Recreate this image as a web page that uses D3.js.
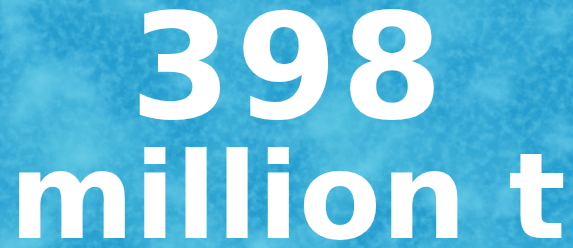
<!DOCTYPE html>
<html>
<head>
<meta charset="utf-8">
<script src="https://cdn.jsdelivr.net/npm/d3@7"></script>
<style>
  html, body { margin: 0; padding: 0; overflow: hidden; }
</style>
</head>
<body>
<svg id="chart" width="573" height="248"></svg>
<script>
// big figure card data
const values = [398]
const units = ["million t"]

const W = 573, H = 248
const svg = d3.select('#chart')

// watercolour-ish blue background
const defs = svg.append('defs')
function noise(id, freq, oct, seed, rgb, a, b) {
  const f = defs.append('filter').attr('id', id)
    .attr('x', 0).attr('y', 0).attr('width', '100%').attr('height', '100%')
  f.append('feTurbulence')
    .attr('type', 'fractalNoise')
    .attr('baseFrequency', freq)
    .attr('numOctaves', oct)
    .attr('seed', seed)
  f.append('feColorMatrix')
    .attr('type', 'matrix')
    .attr('values', `0 0 0 0 ${rgb[0]}  0 0 0 0 ${rgb[1]}  0 0 0 0 ${rgb[2]}  ${a} 0 0 0 ${b}`)
}
noise('dark', 0.01, 5, 3, [0.08, 0.52, 0.73], 2.2, -0.85)
noise('light', 0.018, 5, 11, [0.20, 0.68, 0.87], 1.8, -0.95)
noise('grain', 0.12, 3, 5, [0.12, 0.58, 0.78], 1.2, -0.45)

svg.append('rect')
  .attr('width', W).attr('height', H)
  .style('fill', '#259ecf')
for (const id of ['dark', 'light', 'grain']) {
  svg.append('rect')
    .attr('width', W).attr('height', H)
    .attr('filter', `url(#${id})`)
}

const x = d3.scaleLinear().domain([0, 1]).range([0, W])

// value
svg.selectAll('text.val').data(values).enter()
  .append('text')
  .attr('class', 'val')
  .attr('x', x(0.5) + 2)
  .attr('y', 118)
  .attr('text-anchor', 'middle')
  .style('font-family', 'DejaVu Sans')
  .style('font-weight', 'bold')
  .style('font-size', '146px')
  .style('letter-spacing', '4px')
  .style('fill', 'white')
  .text(d => d)

// unit
svg.selectAll('text.unit').data(units).enter()
  .append('text')
  .attr('class', 'unit')
  .attr('x', x(0.5) + 1)
  .attr('y', 238)
  .attr('text-anchor', 'middle')
  .style('font-family', 'DejaVu Sans')
  .style('font-weight', 'bold')
  .style('font-size', '120px')
  .style('fill', 'white')
  .text(d => d)
</script>
</body>
</html>
